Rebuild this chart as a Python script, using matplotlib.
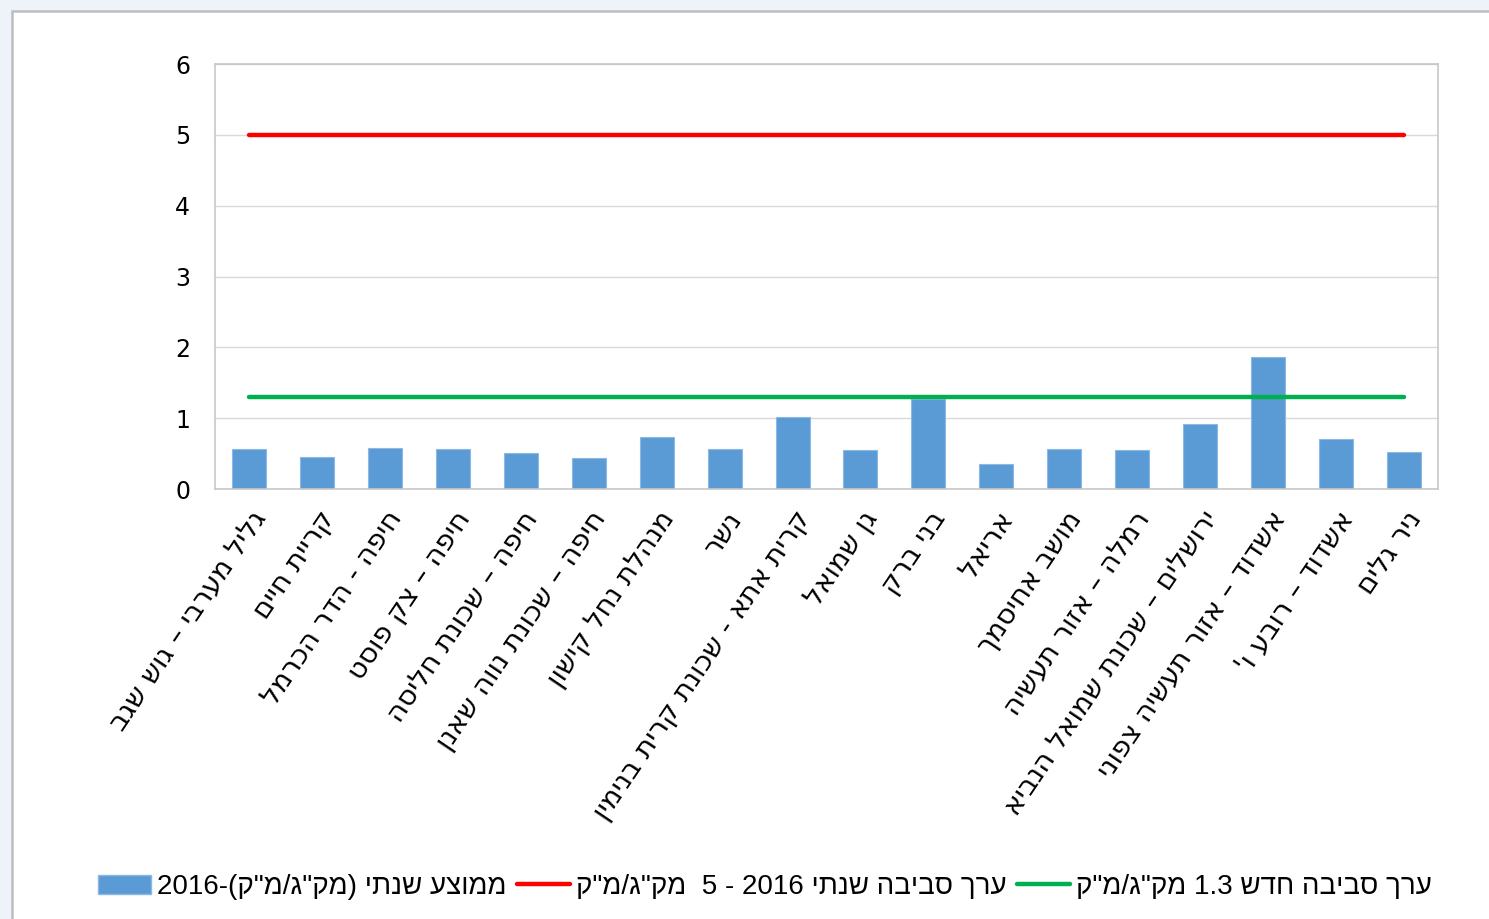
import re
import matplotlib
matplotlib.use("Agg")
import matplotlib.pyplot as plt
from matplotlib.patches import Rectangle, Patch
from matplotlib.lines import Line2D

# monitoring stations (logical Hebrew order)
sites = [
    "גליל מערבי – גוש שגב",
    "קריית חיים",
    "חיפה - הדר הכרמל",
    "חיפה – צק פוסט",
    "חיפה – שכונת חליסה",
    "חיפה – שכונת נווה שאנן",
    "מנהלת נחל קישון",
    "נשר",
    "קרית אתא - שכונת קרית בנימין",
    "גן שמואל",
    "בני ברק",
    "אריאל",
    "מושב אחיסמך",
    "רמלה – אזור תעשיה",
    "ירושלים – שכונת שמואל הנביא",
    "אשדוד – אזור תעשיה צפוני",
    "אשדוד – רובע ו'",
    "ניר גלים",
]
annual_avg = [0.56, 0.45, 0.58, 0.56, 0.51, 0.44, 0.73, 0.56, 1.01,
              0.55, 1.27, 0.36, 0.56, 0.55, 0.92, 1.86, 0.71, 0.52]
limit_2016 = 5.0
limit_new = 1.3
yticks = [0, 1, 2, 3, 4, 5, 6]

lbl_bar = 'ממוצע שנתי (מק"ג/מ"ק)-2016'
lbl_red = 'ערך סביבה שנתי 2016 - 5  מק"ג/מ"ק'
lbl_green = 'ערך סביבה חדש 1.3 מק"ג/מ"ק'

MIRROR = str.maketrans("()", ")(")


def vis(s):
    # crude bidi: RTL base, keep number runs left-to-right
    parts = re.split(r"([0-9][0-9.]*)", s)
    out = []
    for p in reversed(parts):
        if re.fullmatch(r"[0-9][0-9.]*", p):
            out.append(p)
        else:
            out.append(p[::-1].translate(MIRROR))
    return "".join(out)


fig = plt.figure(figsize=(14.89, 9.19), dpi=100)
fig.patch.set_facecolor("#EEF3F9")
# window panel
fig.patches.append(Rectangle((12 / 1489, -0.05), 1.1, 1 - 11 / 919 + 0.05,
                             transform=fig.transFigure, facecolor="white",
                             edgecolor="#BDBDBD", lw=1.8, zorder=-5))

ax = fig.add_axes([215 / 1489, 1 - 489 / 919, (1438 - 215) / 1489, (489 - 64) / 919])
ax.set_facecolor("white")

x = list(range(len(sites)))
ax.bar(x, annual_avg, width=0.5, color="#5B9BD5", edgecolor="#8DB8E3", lw=0.8, zorder=2)
ax.plot(x, [limit_2016] * len(x), color="#FF0000", lw=3.2, solid_capstyle="round", zorder=3)
ax.plot(x, [limit_new] * len(x), color="#00B050", lw=3.2, solid_capstyle="round", zorder=3)

ax.set_xlim(-0.5, len(sites) - 0.5)
ax.set_ylim(0, 6)
ax.set_yticks(yticks)
ax.set_yticklabels([str(v) for v in yticks], fontsize=17, family="DejaVu Sans")
ax.tick_params(axis="y", length=0, pad=18)
ax.grid(axis="y", color="#D9D9D9", lw=1, zorder=0)
ax.set_axisbelow(True)
for sp in ax.spines.values():
    sp.set_color("#C8C8C8")
    sp.set_linewidth(1.2)

ax.set_xticks(x)
ax.set_xticklabels([vis(s) for s in sites], rotation=56, ha="right", va="top",
                   rotation_mode="anchor", fontsize=20, family="DejaVu Sans")
ax.tick_params(axis="x", length=0, pad=12)

handles = [
    Patch(facecolor="#5B9BD5", edgecolor="#8DB8E3"),
    Line2D([], [], color="#FF0000", lw=3.2, solid_capstyle="round"),
    Line2D([], [], color="#00B050", lw=3.2, solid_capstyle="round"),
]
fig.legend(handles, [vis(lbl_bar), vis(lbl_red), vis(lbl_green)],
           loc="center", bbox_to_anchor=(765 / 1489, 1 - 887 / 919), ncol=3,
           frameon=False, prop={"family": "Liberation Sans", "size": 20},
           handlelength=1.9, handletextpad=0.2, columnspacing=0.4)

fig.savefig("out.png", dpi=100, facecolor=fig.get_facecolor())
